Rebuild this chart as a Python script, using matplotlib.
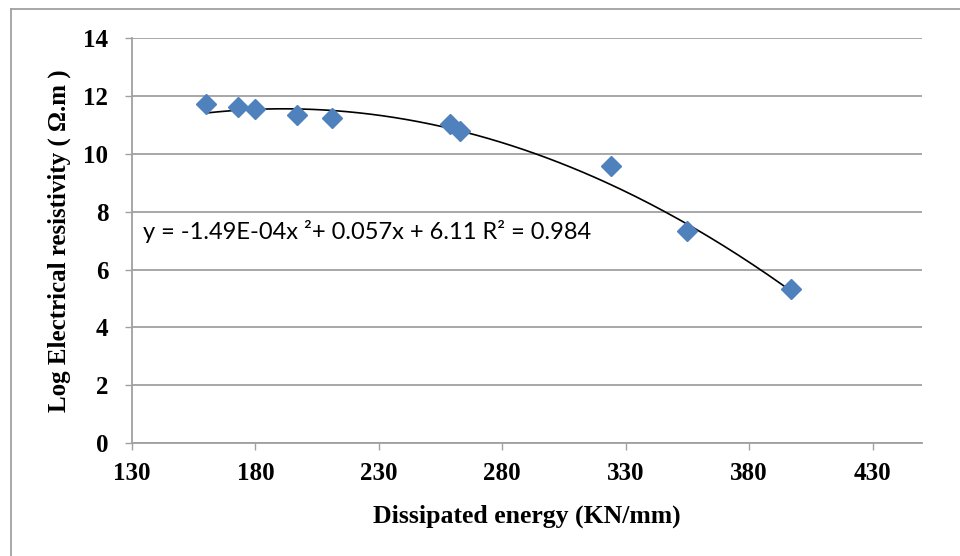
import numpy as np
import matplotlib
matplotlib.use("Agg")
import matplotlib.pyplot as plt
from matplotlib.lines import Line2D

# data
energy = [160, 173, 180, 197, 211, 259, 263, 324, 355, 397]
log_res = [11.73, 11.62, 11.55, 11.36, 11.26, 11.04, 10.80, 9.60, 7.35, 5.34]

# trendline coefficients as printed on the chart (a*x^2 + b*x + c)
coef = [-1.49e-4, 0.057, 6.11]
r2 = 0.984

x_ticks = [130, 180, 230, 280, 330, 380, 430]
y_ticks = [0, 2, 4, 6, 8, 10, 12, 14]

grid_col = "#a0a0a0"
serif = "Liberation Serif"

fig = plt.figure(figsize=(9.6, 5.56), dpi=100)
ax = fig.add_axes([0.1375, 0.2032, 0.8229, 0.7279])

ax.set_xlim(130, 450)
ax.set_ylim(0, 14)
ax.set_xticks(x_ticks)
ax.set_yticks(y_ticks)

ax.yaxis.grid(True, color=grid_col, linewidth=1.3)
ax.set_axisbelow(True)
for side in ["top", "right"]:
    ax.spines[side].set_visible(False)
for side in ["left", "bottom"]:
    ax.spines[side].set_color(grid_col)
    ax.spines[side].set_linewidth(1.3)

ax.tick_params(axis="both", direction="out", length=5, width=1.0, color=grid_col)
ax.tick_params(axis="y", pad=12)
ax.tick_params(axis="x", pad=9)
for lab in ax.get_xticklabels() + ax.get_yticklabels():
    lab.set_fontfamily(serif)
    lab.set_fontweight("bold")
    lab.set_fontsize(18)

# trendline over the range of the data
xs = np.linspace(min(energy), max(energy), 200)
ax.plot(xs, np.polyval(coef, xs), color="black", linewidth=1.2, zorder=2)

ax.plot(energy, log_res, linestyle="none", marker="D", markersize=10,
        color="#4f81bd", zorder=3)

eq = "y = -1.49E-04x \u00b2+ 0.057x + 6.11 R\u00b2 = %.3f" % r2
ax.text(134.5, 7.3, eq, ha="left", va="center", fontsize=17, family="Lato")

ax.set_xlabel("Dissipated energy (KN/mm)", family=serif, fontweight="bold",
              fontsize=18.5, labelpad=14)
ax.set_ylabel("Log Electrical resistivity ( \u03a9.m )", family=serif,
              fontweight="bold", fontsize=18, labelpad=9)

# chart area border (only left and top show in the crop)
fig.add_artist(Line2D([11 / 960, 11 / 960], [0, 1 - 9 / 556],
                      transform=fig.transFigure, color=grid_col, linewidth=1.3))
fig.add_artist(Line2D([11 / 960, 1], [1 - 9 / 556, 1 - 9 / 556],
                      transform=fig.transFigure, color=grid_col, linewidth=1.3))

fig.savefig("out.png", dpi=100)
